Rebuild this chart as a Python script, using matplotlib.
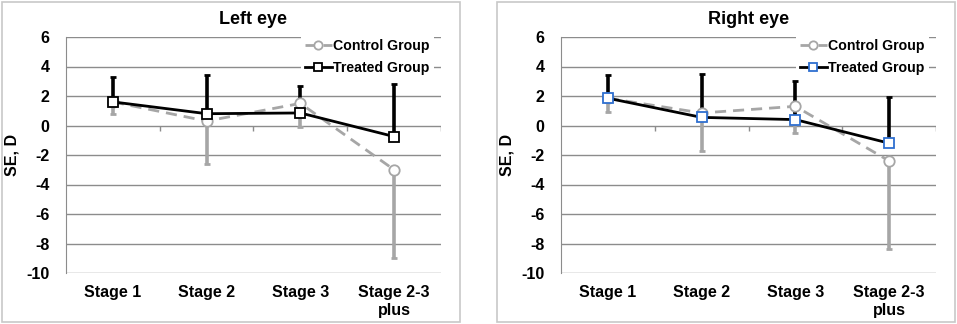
import matplotlib.pyplot as plt
import numpy as np
from matplotlib.patches import Rectangle

import matplotlib

matplotlib.rcParams.update({"font.family": ["Liberation Sans", "DejaVu Sans"],
                            "font.weight": "bold", "axes.unicode_minus": False})

stages = ["Stage 1", "Stage 2", "Stage 3", "Stage 2-3\nplus"]
yticks = [6, 4, 2, 0, -2, -4, -6, -8, -10]

# left eye
left_control = [1.6, 0.3, 1.5, -3.0]
left_control_low = [0.8, -2.6, -0.1, -9.0]
left_treated = [1.6, 0.8, 0.85, -0.75]
left_treated_high = [3.3, 3.4, 2.7, 2.8]

# right eye
right_control = [1.85, 0.85, 1.3, -2.4]
right_control_low = [0.9, -1.7, -0.5, -8.4]
right_treated = [1.85, 0.55, 0.4, -1.2]
right_treated_high = [3.4, 3.5, 3.0, 1.9]

GRID = "#8c8c8c"
CTRL = "#a6a6a6"

fig = plt.figure(figsize=(9.57, 3.24), dpi=100)

# panel frames
for x0, x1 in [(2, 460), (497, 955)]:
    fig.patches.append(Rectangle((x0 / 957, 2 / 324), (x1 - x0) / 957, 320 / 324,
                                 transform=fig.transFigure, fill=False,
                                 edgecolor="#c8c8c8", lw=1.2))


def panel(ax, title, ctrl, ctrl_low, trt, trt_high, trt_edge):
    x = np.arange(len(stages))
    for y in yticks:
        ax.axhline(y, color=GRID, lw=1.0, zorder=0)
    ax.vlines([0.5, 1.5, 2.5, 3.5], -0.35, 0, color=GRID, lw=1.0, zorder=0)

    c_err = np.array(ctrl) - np.array(ctrl_low)
    t_err = np.array(trt_high) - np.array(trt)
    ax.errorbar(x, ctrl, yerr=[c_err, np.zeros(4)], fmt="none", ecolor=CTRL,
                elinewidth=2.6, capsize=2, capthick=2, zorder=2)
    ax.errorbar(x, trt, yerr=[np.zeros(4), t_err], fmt="none", ecolor="black",
                elinewidth=2.6, capsize=2, capthick=2, zorder=3)
    ax.plot(x, ctrl, "--", color=CTRL, lw=2, dashes=(4, 2.5), marker="o", ms=7.5,
            mfc="white", mec=CTRL, mew=1.3, label="Control Group", zorder=4)
    ax.plot(x, trt, "-", color="black", lw=2, marker="s", ms=7.5,
            mfc="white", mec=trt_edge, mew=1.3, label="Treated Group", zorder=5)

    ax.set_xlim(-0.5, 3.5)
    ax.set_ylim(-10, 6)
    ax.set_yticks(yticks)
    ax.set_xticks(x)
    ax.set_xticklabels(stages, fontsize=11.5, fontweight="bold", linespacing=1.2)
    ax.tick_params(axis="x", length=0, pad=9)
    ax.tick_params(axis="y", length=0, pad=12, labelsize=11.5)
    for s in ["top", "right", "bottom"]:
        ax.spines[s].set_visible(False)
    ax.spines["left"].set_color(GRID)
    ax.set_ylabel("SE, D", fontsize=11.5, fontweight="bold", labelpad=5)
    ax.set_title(title, fontsize=13, fontweight="bold", pad=9)
    leg = ax.legend(loc="upper right", bbox_to_anchor=(1.0, 1.04), frameon=True,
                    framealpha=1, edgecolor="none", fancybox=False,
                    prop={"size": 10.2, "weight": "bold"}, handlelength=1.9,
                    handletextpad=0.1, borderpad=0.3, labelspacing=0.55,
                    markerscale=0.8)
    leg.set_zorder(10)


ax1 = fig.add_axes([66 / 957, 51 / 324, 375 / 957, 236 / 324])
panel(ax1, "Left eye", left_control, left_control_low, left_treated, left_treated_high, "black")
ax2 = fig.add_axes([561 / 957, 51 / 324, 375 / 957, 236 / 324])
panel(ax2, "Right eye", right_control, right_control_low, right_treated, right_treated_high, "#2f6fd0")

plt.savefig("out.png", dpi=100)
plt.close()
